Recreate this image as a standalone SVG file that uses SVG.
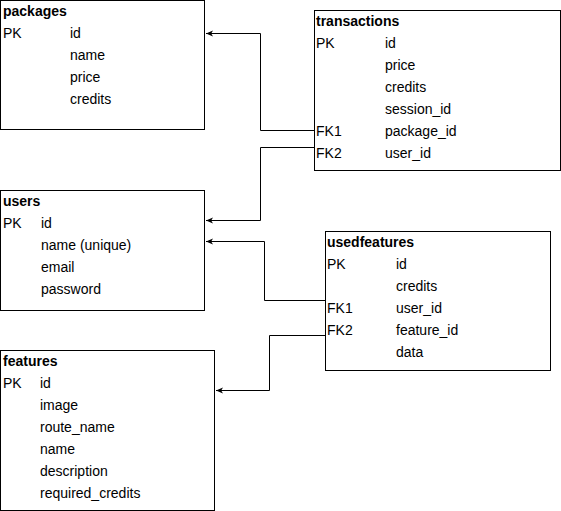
<svg xmlns="http://www.w3.org/2000/svg" width="561" height="511" viewBox="0 0 561 511">
<style>
.box{fill:#fff;stroke:#000;stroke-width:1}
text{font-family:"Liberation Sans",Arial,sans-serif;font-size:14px;fill:#000}
.t{font-weight:bold}
.c{fill:none;stroke:#000;stroke-width:1}
</style>
<defs>
<marker id="arr" viewBox="0 0 10 10" refX="9" refY="5" markerWidth="8" markerHeight="8" markerUnits="userSpaceOnUse" orient="auto">
<path d="M0,1 L9,5 L0,9 L2.5,5 Z" fill="#000"/>
</marker>
</defs>
<rect width="561" height="511" fill="#fff"/>
<g id="packages">
<rect class="box" x="0.5" y="0.5" width="204" height="129"/>
<text class="t" x="3" y="16">packages</text>
<text x="3" y="38">PK</text><text x="70" y="38">id</text>
<text x="70" y="60">name</text>
<text x="70" y="82">price</text>
<text x="70" y="104">credits</text>
</g>
<g id="transactions">
<rect class="box" x="314.5" y="10.5" width="246" height="160"/>
<text class="t" x="316" y="26">transactions</text>
<text x="316" y="48">PK</text><text x="385" y="48">id</text>
<text x="385" y="70">price</text>
<text x="385" y="92">credits</text>
<text x="385" y="114">session_id</text>
<text x="316" y="136">FK1</text><text x="385" y="136">package_id</text>
<text x="316" y="158">FK2</text><text x="385" y="158">user_id</text>
</g>
<g id="users">
<rect class="box" x="0.5" y="190.5" width="204" height="120"/>
<text class="t" x="3" y="206">users</text>
<text x="3" y="228">PK</text><text x="41" y="228">id</text>
<text x="41" y="250">name (unique)</text>
<text x="41" y="272">email</text>
<text x="41" y="294">password</text>
</g>
<g id="usedfeatures">
<rect class="box" x="325.5" y="231.5" width="225" height="139"/>
<text class="t" x="327" y="247">usedfeatures</text>
<text x="327" y="269">PK</text><text x="396" y="269">id</text>
<text x="396" y="291">credits</text>
<text x="327" y="313">FK1</text><text x="396" y="313">user_id</text>
<text x="327" y="335">FK2</text><text x="396" y="335">feature_id</text>
<text x="396" y="357">data</text>
</g>
<g id="features">
<rect class="box" x="0.5" y="350.5" width="214" height="160"/>
<text class="t" x="3" y="366">features</text>
<text x="3" y="388">PK</text><text x="40" y="388">id</text>
<text x="40" y="410">image</text>
<text x="40" y="432">route_name</text>
<text x="40" y="454">name</text>
<text x="40" y="476">description</text>
<text x="40" y="498">required_credits</text>
</g>
<g id="connectors">
<path class="c" d="M314,130.5 H260.5 V33.5 H206" marker-end="url(#arr)"/>
<path class="c" d="M314,147.5 H260.5 V220.5 H206" marker-end="url(#arr)"/>
<path class="c" d="M325,300.5 H264.5 V241.5 H206" marker-end="url(#arr)"/>
<path class="c" d="M325,335.5 H269.5 V390.5 H216" marker-end="url(#arr)"/>
</g>
</svg>
